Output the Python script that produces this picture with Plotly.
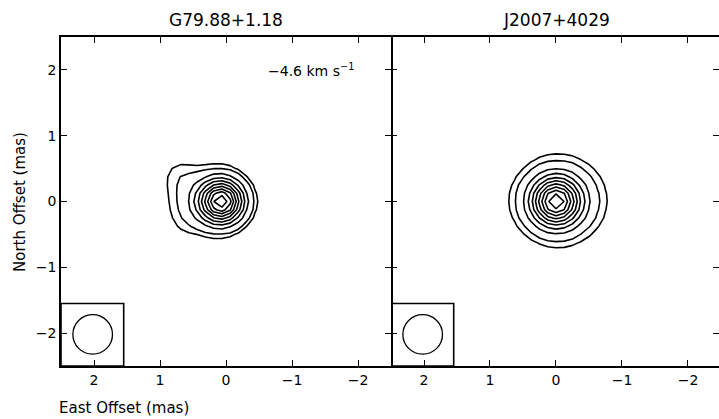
import numpy as np
import plotly.graph_objects as go

# ---- data ----
titles = ["G79.88+1.18", "J2007+4029"]
velocity_label = "−4.6 km s<sup>−1</sup>"

# Gaussian components describing each brightness map: amplitude, centre (mas), widths (mas)
g79_amp = [1.0, 0.18, 0.06, 0.03]
g79_x0 = [0.0625, 0.33, 0.72, 0.65]
g79_y0 = [0.0, 0.02, 0.42, -0.35]
g79_sx = [0.22, 0.35, 0.20, 0.20]
g79_sy = [0.22, 0.30, 0.20, 0.20]

j2007_amp = [1.0, 0.25]
j2007_x0 = [0.0, -0.05]
j2007_y0 = [0.0, 0.02]
j2007_sx = [0.24, 0.45]
j2007_sy = [0.24, 0.42]

# contour levels as fraction of the peak
levels = [0.06, 0.1, 0.2, 0.3, 0.4, 0.5, 0.6, 0.7, 0.8, 0.9]

# restoring beam (FWHM, mas) and its box
beam_fwhm = 0.6
beam_centre = [2.02, -2.02]
beam_box = [2.5, 1.55, -2.5, -1.55]

tick_vals = [-2, -1, 0, 1, 2]
pixel = 0.125


def make_map(amp, x0, y0, sx, sy, x_offset):
    gx = np.arange(-20, 21) * pixel + x_offset
    gy = np.arange(-20, 21) * pixel
    X, Y = np.meshgrid(gx, gy)
    Z = np.zeros_like(X)
    for a, cx, cy, wx, wy in zip(amp, x0, y0, sx, sy):
        Z += a * np.exp(-((X - cx) ** 2) / (2 * wx ** 2) - ((Y - cy) ** 2) / (2 * wy ** 2))
    return gx, gy, Z / Z.max()


maps = [make_map(g79_amp, g79_x0, g79_y0, g79_sx, g79_sy, 0.0625),
        make_map(j2007_amp, j2007_x0, j2007_y0, j2007_sx, j2007_sy, 0.0)]

W, H = 719, 419
ml, mr, mt, mb = 61, 0, 37, 53
pw = W - ml - mr
ph = H - mt - mb
split = 330 / pw


def px_x(px):
    return (px - ml) / pw


def px_y(py):
    return (H - mb - py) / ph


fig = go.Figure()
FONT = "DejaVu Sans"
black_scale = [[0, "black"], [1, "black"]]

for i, (gx, gy, Z) in enumerate(maps):
    xa = "x" if i == 0 else "x2"
    ya = "y" if i == 0 else "y2"
    for lv in levels:
        fig.add_trace(go.Contour(
            x=gx, y=gy, z=Z, xaxis=xa, yaxis=ya,
            contours=dict(start=lv, end=lv, size=1, coloring="lines"),
            colorscale=black_scale, showscale=False,
            line=dict(width=1.6, smoothing=0),
            hoverinfo="skip",
        ))

# invisible trace to carry the right-hand tick axis of panel 2
fig.add_trace(go.Scatter(x=[0], y=[0], xaxis="x2", yaxis="y3", mode="markers",
                         marker=dict(opacity=0), hoverinfo="skip", showlegend=False))

axis_common = dict(
    showline=True, linecolor="black", linewidth=1.6,
    ticks="inside", ticklen=6, tickwidth=1.4, tickcolor="black",
    tickvals=tick_vals, showgrid=False, zeroline=False,
    tickfont=dict(family=FONT, size=14, color="black"),
)

fig.update_layout(
    width=W, height=H,
    margin=dict(l=ml, r=mr, t=mt, b=mb, pad=0),
    paper_bgcolor="white", plot_bgcolor="white",
    showlegend=False,
    xaxis=dict(axis_common, domain=[0, split], range=[2.5, -2.5], mirror="ticks", anchor="y"),
    yaxis=dict(axis_common, domain=[0, 1], range=[-2.5, 2.5], mirror="ticks", anchor="x"),
    xaxis2=dict(axis_common, domain=[split, 1], range=[2.5, -2.47], mirror="ticks", anchor="y2"),
    yaxis2=dict(axis_common, domain=[0, 1], range=[-2.5, 2.5], mirror=False,
                showline=False, showticklabels=False, anchor="x2"),
    yaxis3=dict(axis_common, overlaying="y2", side="right", range=[-2.5, 2.5],
                showline=False, showticklabels=False, anchor="x2"),
)

shapes = []
for xr, yr in [("x", "y"), ("x2", "y2")]:
    shapes.append(dict(type="rect", xref=xr, yref=yr,
                       x0=beam_box[0], x1=beam_box[1], y0=beam_box[2], y1=beam_box[3],
                       line=dict(color="black", width=1.6), layer="above"))
    r = beam_fwhm / 2
    shapes.append(dict(type="circle", xref=xr, yref=yr,
                       x0=beam_centre[0] - r, x1=beam_centre[0] + r,
                       y0=beam_centre[1] - r, y1=beam_centre[1] + r,
                       line=dict(color="black", width=1.3), layer="above"))
fig.update_layout(shapes=shapes)

ann = [
    dict(text=titles[0], x=px_x(226), y=px_y(20), xref="paper", yref="paper",
         xanchor="center", yanchor="middle",
         showarrow=False, font=dict(family=FONT, size=17, color="black")),
    dict(text=titles[1], x=px_x(556), y=px_y(20), xref="paper", yref="paper",
         xanchor="center", yanchor="middle",
         showarrow=False, font=dict(family=FONT, size=17, color="black")),
    dict(text=velocity_label, x=-1.97, y=2.0, xref="x", yref="y",
         xanchor="right", yanchor="middle",
         showarrow=False, font=dict(family=FONT, size=14, color="black")),
    dict(text="East Offset (mas)", x=px_x(124), y=px_y(408), xref="paper", yref="paper",
         xanchor="center", yanchor="middle",
         showarrow=False, font=dict(family=FONT, size=15, color="black")),
    dict(text="North Offset (mas)", x=px_x(20), y=px_y(202), xref="paper", yref="paper",
         xanchor="center", yanchor="middle",
         textangle=-90, showarrow=False, font=dict(family=FONT, size=15, color="black")),
]
fig.update_layout(annotations=ann)

fig.write_html("out.html")
